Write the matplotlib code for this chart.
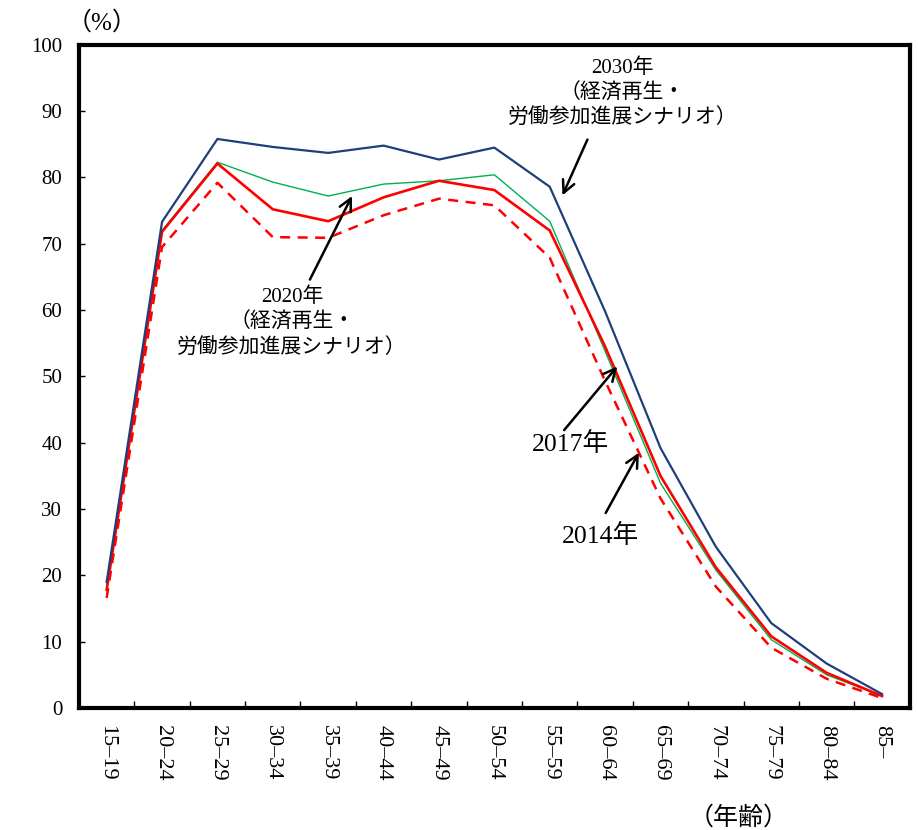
import matplotlib
matplotlib.use('Agg')
import matplotlib.pyplot as plt

plt.rcParams['font.family'] = ['Liberation Serif', 'Noto Sans CJK JP']

# age groups
ages = ['15–19', '20–24', '25–29', '30–34', '35–39', '40–44', '45–49',
        '50–54', '55–59', '60–64', '65–69', '70–74', '75–79', '80–84', '85–']

# labour force participation rate (%)
y2030 = [19.0, 73.3, 85.8, 84.6, 83.7, 84.8, 82.7, 84.5, 78.6, 59.8, 39.2, 24.3, 12.8, 6.7, 2.1]
y2020 = [18.5, 72.0, 82.3, 79.3, 77.2, 79.0, 79.5, 80.4, 73.4, 53.8, 33.9, 20.8, 10.3, 5.0, 1.8]
y2017 = [17.8, 71.8, 82.1, 75.2, 73.4, 77.0, 79.5, 78.1, 72.0, 54.5, 35.0, 21.2, 10.8, 5.3, 1.8]
y2014 = [16.6, 69.5, 79.2, 71.0, 70.9, 74.3, 76.8, 75.8, 67.9, 49.3, 31.6, 18.3, 9.1, 4.4, 1.5]

yticks = [0, 10, 20, 30, 40, 50, 60, 70, 80, 90, 100]

fig = plt.figure(figsize=(9.18, 8.3), dpi=100)
ax = fig.add_axes([0.086, 0.147, 0.905, 0.799])

x = list(range(len(ages)))
ax.plot(x, y2014, color='#FF0000', lw=1.8, ls=(0, (4, 3)))
ax.plot(x, y2020, color='#00B050', lw=1.0)
ax.plot(x, y2017, color='#FF0000', lw=1.9)
ax.plot(x, y2030, color='#1F3F7A', lw=1.6)

ax.set_xlim(-0.5, len(ages) - 0.5)
ax.set_ylim(0, 100)
ax.set_yticks(yticks)
ax.set_yticklabels([str(v) for v in yticks], fontsize=15)
ax.set_xticks(x)
ax.set_xticklabels(ages, rotation=-90, fontsize=16, va='top')
ax.set_xticks([i + 0.5 for i in range(len(ages) - 1)], minor=True)
ax.tick_params(axis='x', which='major', length=0, pad=12)
ax.tick_params(axis='x', which='minor', direction='in', length=5, width=1)
ax.tick_params(axis='y', direction='in', length=4, width=1, pad=12)

for s in ax.spines.values():
    s.set_linewidth(3)

fig.text(0.111, 0.973, '（%）', fontsize=18, ha='center', va='center')
fig.text(0.805, 0.0, '（年齢）', fontsize=18, ha='center', va='bottom')

arrow = dict(arrowstyle='->', lw=1.8, color='black', mutation_scale=22,
             shrinkA=0, shrinkB=0)

# 2030
ax.text(9.31, 92.6, '2030年\n（経済再生・\n労働参加進展シナリオ）', fontsize=15,
        ha='center', va='center', linespacing=1.38)
ax.annotate('', xy=(8.23, 77.3), xytext=(8.68, 85.7), arrowprops=arrow)

# 2020
ax.text(3.35, 58.0, '2020年\n（経済再生・\n労働参加進展シナリオ）', fontsize=15,
        ha='center', va='center', linespacing=1.38)
ax.annotate('', xy=(4.43, 77.2), xytext=(3.67, 64.6), arrowprops=arrow)

# 2017
ax.text(8.37, 39.8, '2017年', fontsize=18.5, ha='center', va='center')
ax.annotate('', xy=(9.22, 51.5), xytext=(8.26, 41.9), arrowprops=arrow)

# 2014
ax.text(8.92, 26.0, '2014年', fontsize=18.5, ha='center', va='center')
ax.annotate('', xy=(9.61, 38.5), xytext=(9.01, 29.4), arrowprops=arrow)

fig.savefig('out.png', dpi=100)
